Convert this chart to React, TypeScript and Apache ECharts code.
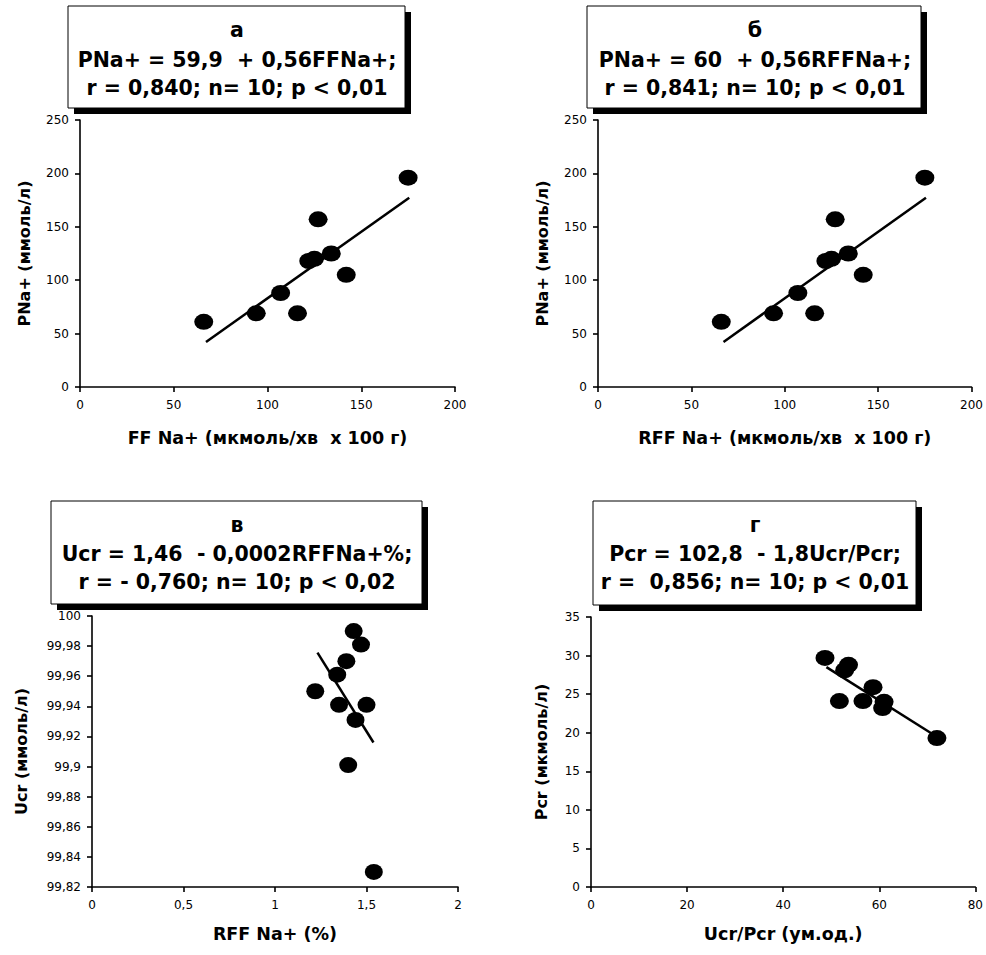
import React, { useEffect, useRef } from 'react';
import * as echarts from 'echarts';

// Panel а: FF Na+ vs PNa+
const aX = [66, 94, 107, 116, 122, 125, 127, 134, 142, 175];
const aY = [61, 69, 88, 69, 118, 120, 157, 125, 105, 196];
const aLineX = [67.2, 175.6];
const aLineY = [42.2, 177.2];

// Panel б: RFF Na+ vs PNa+
const bX = [66, 94, 107, 116, 122, 125, 127, 134, 142, 175];
const bY = [61, 69, 88, 69, 118, 120, 157, 125, 105, 196];
const bLineX = [67.2, 175.6];
const bLineY = [42.2, 177.2];

// Panel в: RFF Na+ (%) vs Ucr
const cX = [1.43, 1.47, 1.39, 1.34, 1.22, 1.35, 1.5, 1.44, 1.4, 1.54];
const cY = [99.99, 99.981, 99.97, 99.961, 99.95, 99.941, 99.941, 99.931, 99.901, 99.83];
const cLineX = [1.232, 1.538];
const cLineY = [99.9757, 99.916];

// Panel г: Ucr/Pcr vs Pcr
const dX = [48.7, 53.6, 52.8, 58.7, 51.7, 56.6, 61.0, 60.7, 72.0];
const dY = [29.7, 28.8, 28.1, 25.9, 24.1, 24.1, 24.0, 23.2, 19.3];
const dLineX = [49.0, 70.9];
const dLineY = [28.5, 19.9];

const titles = ['а', 'б', 'в', 'г'];
const equations = [
  'PNa+ = 59,9  + 0,56FFNa+;',
  'PNa+ = 60  + 0,56RFFNa+;',
  'Ucr = 1,46  - 0,0002RFFNa+%;',
  'Pcr = 102,8  - 1,8Ucr/Pcr;',
];
const stats = [
  'r = 0,840; n= 10; p < 0,01',
  'r = 0,841; n= 10; p < 0,01',
  'r = - 0,760; n= 10; p < 0,02',
  'r =  0,856; n= 10; p < 0,01',
];
const xNames = [
  'FF Na+ (мкмоль/хв  х 100 г)',
  'RFF Na+ (мкмоль/хв  х 100 г)',
  'RFF Na+ (%)',
  'Ucr/Pcr (ум.од.)',
];
const yNames = ['PNa+ (ммоль/л)', 'PNa+ (ммоль/л)', 'Ucr (ммоль/л)', 'Pcr (мкмоль/л)'];

const xMins = [0, 0, 0, 0];
const xMaxs = [200, 200, 2, 80];
const xIntervals = [50, 50, 0.5, 20];
const yMins = [0, 0, 99.82, 0];
const yMaxs = [250, 250, 100, 35];
const yIntervals = [50, 50, 0.02, 5];

const FONT = '"DejaVu Sans", Arial, sans-serif';
const ELLIPSE = 'path://M0,8A10,8 0 1 1 20,8A10,8 0 1 1 0,8Z';

const zip = (xs: number[], ys: number[]) => xs.map((x, i) => [x, ys[i]]);
const fmt = (v: number) => String(parseFloat(Number(v).toFixed(4))).replace('.', ',');

export default function App() {
  const ref = useRef<HTMLDivElement>(null);
  useEffect(() => {
    if (!ref.current) return;
    const chart = echarts.init(ref.current, undefined, { renderer: 'svg' });

    const grids = [
      { left: 80, top: 120, width: 375, height: 267 },
      { left: 598, top: 120, width: 375, height: 267 },
      { left: 92, top: 616, width: 366, height: 271 },
      { left: 591, top: 617, width: 386, height: 270 },
    ];
    const xNameGaps = [42, 42, 38, 38];
    const yNameGaps = [48, 48, 63, 42];
    const symbolSizes = [[19, 16], [19, 16], [18, 16], [19, 16]];

    const scatterData = [zip(aX, aY), zip(bX, bY), zip(cX, cY), zip(dX, dY)];
    const lineData = [
      zip(aLineX, aLineY),
      zip(bLineX, bLineY),
      zip(cLineX, cLineY),
      zip(dLineX, dLineY),
    ];

    const axisCommon = {
      type: 'value' as const,
      axisLine: { show: true, onZero: false, lineStyle: { color: '#000', width: 1.6 } },
      axisTick: { show: true, inside: false, length: 5, lineStyle: { color: '#000', width: 1.6 } },
      splitLine: { show: false },
      nameLocation: 'middle' as const,
      nameTextStyle: { color: '#000', fontFamily: FONT, fontWeight: 'bold' as const },
    };

    const xAxis = grids.map((_, i) => ({
      ...axisCommon,
      gridIndex: i,
      min: xMins[i],
      max: xMaxs[i],
      interval: xIntervals[i],
      name: xNames[i],
      nameGap: xNameGaps[i],
      nameTextStyle: { ...axisCommon.nameTextStyle, fontSize: 17.5 },
      axisLabel: { color: '#000', fontFamily: FONT, fontSize: 12, margin: 12, formatter: fmt },
    }));
    const yAxis = grids.map((_, i) => ({
      ...axisCommon,
      gridIndex: i,
      min: yMins[i],
      max: yMaxs[i],
      interval: yIntervals[i],
      name: yNames[i],
      nameGap: yNameGaps[i],
      nameRotate: 90,
      nameTextStyle: { ...axisCommon.nameTextStyle, fontSize: 16 },
      axisLabel: { color: '#000', fontFamily: FONT, fontSize: 12, margin: 11, formatter: fmt },
    }));

    const series: any[] = [];
    for (let i = 0; i < 4; i++) {
      series.push({
        type: 'line',
        xAxisIndex: i,
        yAxisIndex: i,
        data: lineData[i],
        symbol: 'none',
        lineStyle: { color: '#000', width: 2.5 },
        z: 2,
      });
      series.push({
        type: 'scatter',
        xAxisIndex: i,
        yAxisIndex: i,
        data: scatterData[i],
        symbol: ELLIPSE,
        symbolSize: symbolSizes[i],
        itemStyle: { color: '#000', opacity: 1 },
        z: 3,
      });
    }

    const boxes = [
      { x: 68, y: 6, w: 337, h: 102, cx: 237, ly: [30, 59.5, 88] },
      { x: 587, y: 6, w: 334, h: 102, cx: 755, ly: [30, 59.5, 88] },
      { x: 51, y: 501, w: 371, h: 103, cx: 237, ly: [525, 553.5, 582] },
      { x: 593, y: 501, w: 323, h: 104, cx: 755, ly: [525, 553.5, 582] },
    ];
    const graphic: any[] = [];
    boxes.forEach((b, i) => {
      graphic.push({
        type: 'rect',
        shape: { x: b.x + 6, y: b.y + 6, width: b.w, height: b.h },
        style: { fill: '#000' },
        z: 10,
      });
      graphic.push({
        type: 'rect',
        shape: { x: b.x, y: b.y, width: b.w, height: b.h },
        style: { fill: '#fff', stroke: '#000', lineWidth: 1 },
        z: 11,
      });
      const lines = [titles[i], equations[i], stats[i]];
      lines.forEach((t, k) => {
        graphic.push({
          type: 'text',
          x: b.cx,
          y: b.ly[k],
          style: {
            text: t,
            fill: '#000',
            fontFamily: FONT,
            fontWeight: 'bold',
            fontSize: 20.5,
            align: 'center',
            verticalAlign: 'middle',
          },
          z: 12,
        });
      });
    });

    chart.setOption({
      animation: false,
      backgroundColor: '#fff',
      grid: grids,
      xAxis,
      yAxis,
      series,
      graphic,
    });
    return () => chart.dispose();
  }, []);

  return (
    <div
      ref={ref}
      style={{ position: 'absolute', left: 0, top: 0, width: 986, height: 955 }}
    />
  );
}
